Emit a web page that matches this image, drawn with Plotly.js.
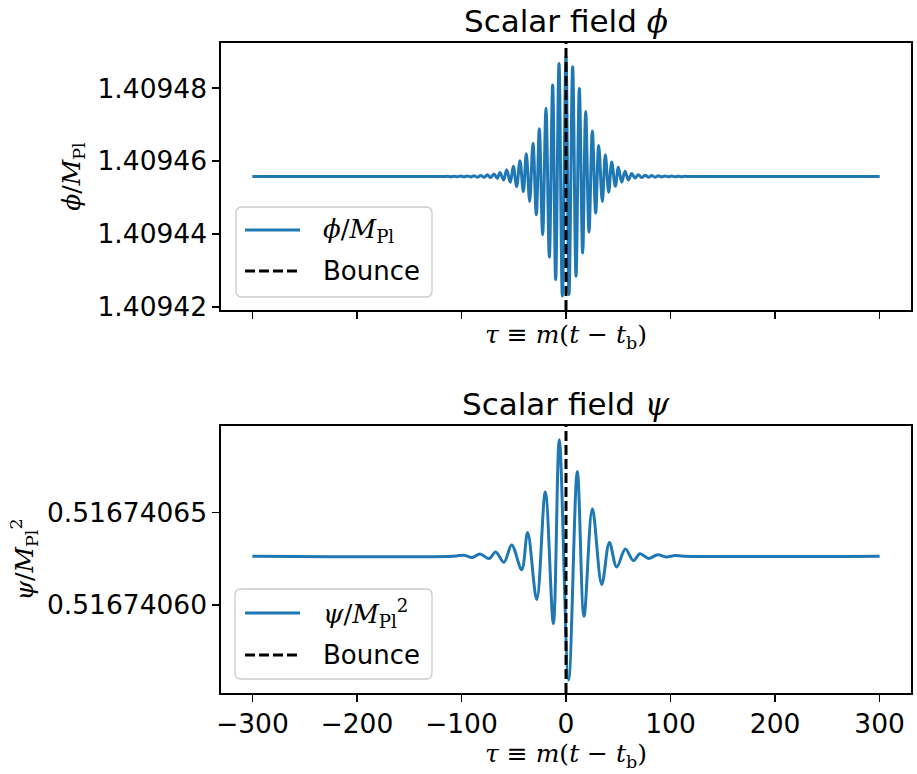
<!DOCTYPE html>
<html>
<head>
<meta charset="utf-8">
<script src="https://cdn.plot.ly/plotly-3.0.1.min.js"></script>
<style>html,body{margin:0;padding:0;background:#fff}</style>
</head>
<body>
<div id="chart" style="width:917px;height:774px"></div>
<script>
// Scalar field phi around the bounce: extrema of the oscillation, tau = m(t - t_b)
const phiTau = [-300, -117, -113.56, -110.05, -107.18, -103.67, -100.80, -97.29, -94.42, -90.91,
  -88.04, -84.53, -81.66, -78.15, -75.28, -72.09, -68.90, -65.71, -63.16, -59.65,
  -56.78, -53.27, -50.40, -47.21, -44.02, -40.83, -37.96, -34.77, -31.58, -28.39,
  -25.52, -22.33, -19.14, -15.95, -12.76, -9.89, -6.70, -3.51, 0.00, 2.87,
  6.38, 9.57, 12.76, 15.95, 18.82, 22.01, 25.20, 28.39, 31.26, 34.77,
  37.64, 40.83, 43.70, 47.21, 50.08, 53.27, 56.46, 59.65, 62.84, 66.03,
  69.22, 72.41, 75.60, 78.79, 81.98, 85.17, 88.36, 91.55, 94.74, 97.93,
  101.12, 104.31, 107.50, 110.69, 113.88, 118, 300];
const phiVal = [1.4094558, 1.4094558, 1.40945585, 1.40945576, 1.40945588, 1.40945573, 1.40945592, 1.4094557, 1.40945595, 1.40945567,
  1.409456, 1.40945563, 1.4094561, 1.40945558, 1.40945625, 1.4094555, 1.4094565, 1.40945535, 1.4094569, 1.40945485,
  1.40945767, 1.40945422, 1.40945858, 1.40945303, 1.40946013, 1.40945167, 1.40946204, 1.40944894, 1.40946495, 1.4094453,
  1.40946886, 1.40943985, 1.4094745, 1.40943366, 1.40948086, 1.40942757, 1.40948677, 1.40942302, 1.40948887, 1.40942347,
  1.40948587, 1.40942848, 1.40947995, 1.40943484, 1.40947359, 1.40944057, 1.40946831, 1.40944576, 1.40946431, 1.40944894,
  1.40946176, 1.40945149, 1.40945976, 1.40945313, 1.40945831, 1.40945422, 1.40945722, 1.40945485, 1.4094566, 1.4094554,
  1.4094563, 1.4094555, 1.40945615, 1.4094556, 1.40945605, 1.40945563, 1.409456, 1.40945567, 1.40945595, 1.4094557,
  1.40945592, 1.40945573, 1.40945588, 1.40945576, 1.40945585, 1.4094558, 1.4094558];

// Scalar field psi around the bounce
const psiTau = [-300, -108, -97.6, -89.7, -82.3, -73.4, -67.3, -59.3, -52.0, -42.4,
  -36.7, -28.0, -19.8, -12.1, -6.4, 2.5, 10.8, 17.2, 25.2, 34.2,
  41.5, 48.5, 56.8, 64.4, 70.8, 78.8, 87.7, 95.7, 104.3, 113, 300];
const psiVal = [0.5167406263, 0.5167406263, 0.5167406268, 0.5167406256, 0.5167406275, 0.5167406250, 0.5167406286, 0.5167406230, 0.5167406324, 0.5167406190,
  0.5167406391, 0.5167406028, 0.5167406610, 0.5167405898, 0.5167406894, 0.5167405593, 0.5167406722, 0.5167405938, 0.5167406520, 0.5167406110,
  0.5167406337, 0.5167406204, 0.5167406302, 0.5167406239, 0.5167406276, 0.5167406251, 0.5167406270, 0.5167406259, 0.5167406266, 0.5167406263, 0.5167406263];

const bounceTau = 0;

// axis ranges and ticks
const tauRange = [-330, 330];
const tauTicks = [-300, -200, -100, 0, 100, 200, 300];
const tauTickText = ['\u2212300', '\u2212200', '\u2212100', '0', '100', '200', '300'];
const phiRange = [1.4094192, 1.4094924];
const phiTicks = [1.40942, 1.40944, 1.40946, 1.40948];
const phiTickText = ['1.40942', '1.40944', '1.40946', '1.40948'];
const psiRange = [0.5167405522, 0.5167406968];
const psiTicks = [0.5167406, 0.51674065];
const psiTickText = ['0.51674060', '0.51674065'];

const BLUE = '#1f77b4';
const SERIF = 'DejaVu Serif, serif';
const SANS = 'DejaVu Sans, sans-serif';
const math = s => '<span style="font-family:' + SERIF + '">' + s + '</span>';

const phiName = math('<i>\u03d5</i>/<i>M</i><sub>Pl</sub>');
const psiName = math('<i>\u03c8</i>/<i>M</i><sub>Pl</sub><sup>2</sup>');
const tauLabel = '<i>\u03c4</i> \u2261 <i>m</i>(<i>t</i> \u2212 <i>t</i><sub>b</sub>)';
const BOUNCE_DASH = '10px,4px';

const traces = [
  {x: phiTau, y: phiVal, xaxis: 'x', yaxis: 'y', type: 'scatter', mode: 'lines',
   line: {color: BLUE, width: 3, shape: 'spline', smoothing: 1}, name: phiName},
  {x: [bounceTau, bounceTau], y: phiRange, xaxis: 'x', yaxis: 'y', type: 'scatter', mode: 'lines',
   line: {color: '#000', width: 3, dash: BOUNCE_DASH}, name: 'Bounce'},
  {x: psiTau, y: psiVal, xaxis: 'x2', yaxis: 'y2', type: 'scatter', mode: 'lines',
   line: {color: BLUE, width: 3, shape: 'spline', smoothing: 1}, name: psiName},
  {x: [bounceTau, bounceTau], y: psiRange, xaxis: 'x2', yaxis: 'y2', type: 'scatter', mode: 'lines',
   line: {color: '#000', width: 3, dash: BOUNCE_DASH}, name: 'Bounce'}
];

// plot area in pixels, used to place the legend boxes in paper units
const M = {l: 221, r: 6, t: 43, b: 81};
const W = 917, H = 774;
const PW = W - M.l - M.r, PH = H - M.t - M.b;
const fx = px => (px - M.l) / PW;
const fy = py => (H - M.b - py) / PH;

function roundRect(x0, y0, x1, y1, r) {
  const rx = r / PW, ry = r / PH;
  const L = fx(x0), R = fx(x1), T = fy(y0), B = fy(y1);
  return 'M' + (L + rx) + ',' + T + ' L' + (R - rx) + ',' + T + ' Q' + R + ',' + T + ' ' + R + ',' + (T - ry) +
    ' L' + R + ',' + (B + ry) + ' Q' + R + ',' + B + ' ' + (R - rx) + ',' + B +
    ' L' + (L + rx) + ',' + B + ' Q' + L + ',' + B + ' ' + L + ',' + (B + ry) +
    ' L' + L + ',' + (T - ry) + ' Q' + L + ',' + T + ' ' + (L + rx) + ',' + T + ' Z';
}

// legend for each panel: box, line samples, labels
const legends = [
  {box: [236, 207, 432, 297], rows: [230, 271], entries: [0, 1]},
  {box: [235, 589, 432, 679], rows: [613, 655], entries: [2, 3]}
];
const shapes = [], annotations = [];
legends.forEach(lg => {
  shapes.push({type: 'path', xref: 'paper', yref: 'paper', layer: 'above',
    path: roundRect(lg.box[0], lg.box[1], lg.box[2], lg.box[3], 6),
    fillcolor: 'rgba(255,255,255,0.8)', line: {color: '#cccccc', width: 1.3}});
  lg.entries.forEach((ti, k) => {
    const tr = traces[ti];
    shapes.push({type: 'line', xref: 'paper', yref: 'paper', layer: 'above',
      x0: fx(245), x1: fx(300), y0: fy(lg.rows[k]), y1: fy(lg.rows[k]),
      line: {color: tr.line.color, width: tr.line.width, dash: tr.line.dash || 'solid'}});
    annotations.push({text: tr.name, xref: 'paper', yref: 'paper', x: fx(321), y: fy(lg.rows[k]),
      xanchor: 'left', yanchor: 'middle', showarrow: false,
      font: {family: SANS, size: 26, color: '#000'}});
  });
});

annotations.push(
  {text: 'Scalar field ' + math('<i>\u03d5</i>'), xref: 'paper', yref: 'paper', x: 0.5, y: 1,
   xanchor: 'center', yanchor: 'bottom', yshift: 2, showarrow: false,
   font: {family: SANS, size: 31, color: '#000'}},
  {text: 'Scalar field ' + math('<i>\u03c8</i>'), xref: 'paper', yref: 'paper', x: 0.5, y: 0.4108,
   xanchor: 'center', yanchor: 'bottom', yshift: 2, showarrow: false,
   font: {family: SANS, size: 31, color: '#000'}}
);

const frame = {
  showline: true, mirror: true, linecolor: '#000', linewidth: 1.6,
  ticks: 'outside', ticklen: 7, tickwidth: 1.6, tickcolor: '#000',
  showgrid: false, zeroline: false,
  tickfont: {family: SANS, size: 26.5, color: '#000'}
};
const labelFont = {family: SERIF, size: 25, color: '#000'};

const layout = {
  width: W, height: H, margin: M,
  paper_bgcolor: '#fff', plot_bgcolor: '#fff',
  showlegend: false,
  xaxis: Object.assign({}, frame, {domain: [0, 1], anchor: 'y', range: tauRange,
    tickvals: tauTicks, ticktext: tauTickText, showticklabels: false,
    title: {text: tauLabel, font: labelFont, standoff: 8}}),
  yaxis: Object.assign({}, frame, {domain: [0.5892, 1], anchor: 'x', range: phiRange,
    tickvals: phiTicks, ticktext: phiTickText,
    title: {text: phiName, font: labelFont, standoff: 10}}),
  xaxis2: Object.assign({}, frame, {domain: [0, 1], anchor: 'y2', range: tauRange,
    tickvals: tauTicks, ticktext: tauTickText,
    title: {text: tauLabel, font: labelFont, standoff: 0}}),
  yaxis2: Object.assign({}, frame, {domain: [0, 0.4108], anchor: 'x2', range: psiRange,
    tickvals: psiTicks, ticktext: psiTickText,
    title: {text: psiName, font: labelFont, standoff: 6}}),
  shapes: shapes,
  annotations: annotations
};

Plotly.newPlot('chart', traces, layout, {staticPlot: true, displayModeBar: false});
</script>
</body>
</html>
